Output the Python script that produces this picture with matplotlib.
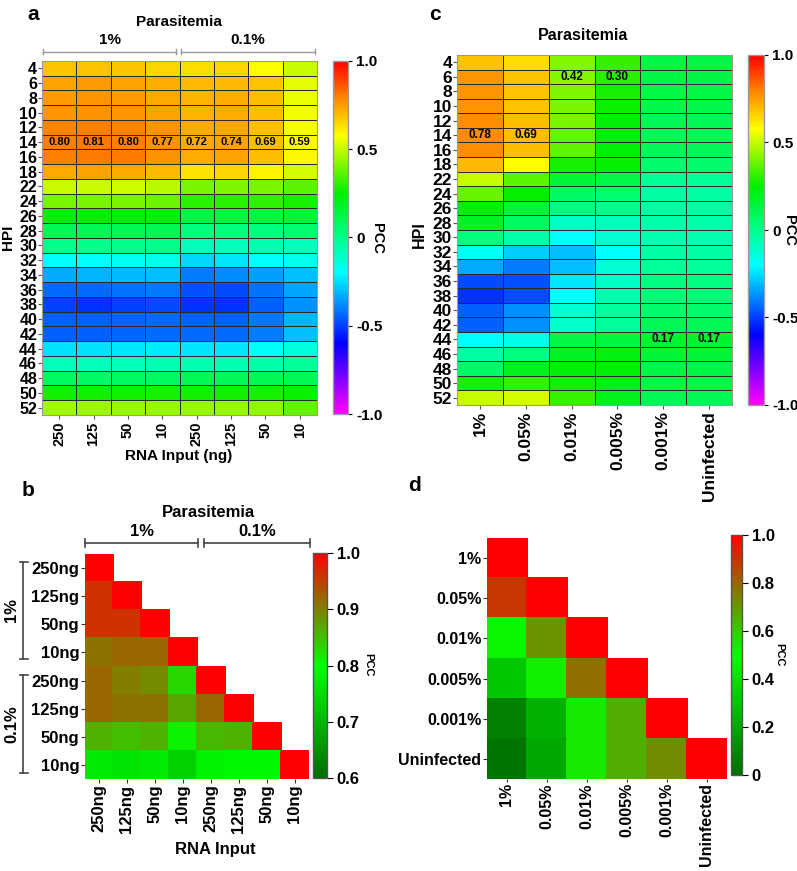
import numpy as np
import matplotlib
matplotlib.use("Agg")
import matplotlib.pyplot as plt
from matplotlib.colors import LinearSegmentedColormap

plt.rcParams['font.family'] = ['Liberation Sans', 'DejaVu Sans']
plt.rcParams['font.weight'] = 'bold'

# ---------------- data ----------------
hpi = [4, 6, 8, 10, 12, 14, 16, 18, 22, 24, 26, 28, 30, 32, 34, 36, 38, 40, 42, 44, 46, 48, 50, 52]
rna_a = ["250", "125", "50", "10", "250", "125", "50", "10"]

# panel a: PCC per HPI (rows) and RNA input (cols: 1% x4, 0.1% x4)
pcc_a = np.array([
    [0.68, 0.68, 0.68, 0.65, 0.64, 0.65, 0.58, 0.50],
    [0.74, 0.75, 0.74, 0.72, 0.70, 0.70, 0.68, 0.54],
    [0.75, 0.76, 0.75, 0.73, 0.71, 0.72, 0.69, 0.55],
    [0.76, 0.77, 0.76, 0.74, 0.71, 0.72, 0.69, 0.56],
    [0.79, 0.80, 0.79, 0.76, 0.72, 0.73, 0.69, 0.57],
    [0.80, 0.81, 0.80, 0.77, 0.72, 0.74, 0.69, 0.59],
    [0.80, 0.81, 0.81, 0.77, 0.72, 0.74, 0.69, 0.59],
    [0.73, 0.74, 0.73, 0.70, 0.63, 0.65, 0.60, 0.52],
    [0.50, 0.50, 0.51, 0.49, 0.40, 0.41, 0.40, 0.36],
    [0.40, 0.40, 0.40, 0.39, 0.30, 0.30, 0.31, 0.28],
    [0.24, 0.25, 0.24, 0.24, 0.13, 0.14, 0.14, 0.15],
    [0.10, 0.10, 0.10, 0.10, 0.03, 0.03, 0.03, 0.05],
    [0.00, 0.00, 0.00, 0.00, -0.08, -0.08, -0.07, -0.08],
    [-0.20, -0.20, -0.18, -0.17, -0.26, -0.24, -0.20, -0.17],
    [-0.33, -0.32, -0.31, -0.30, -0.40, -0.38, -0.35, -0.30],
    [-0.43, -0.43, -0.42, -0.41, -0.47, -0.48, -0.42, -0.34],
    [-0.50, -0.52, -0.50, -0.48, -0.52, -0.52, -0.45, -0.37],
    [-0.45, -0.45, -0.44, -0.43, -0.45, -0.45, -0.41, -0.32],
    [-0.45, -0.45, -0.44, -0.43, -0.43, -0.43, -0.40, -0.30],
    [-0.25, -0.25, -0.24, -0.23, -0.24, -0.24, -0.19, -0.14],
    [-0.08, -0.08, -0.08, -0.07, -0.07, -0.07, -0.05, -0.02],
    [0.08, 0.07, 0.08, 0.08, 0.10, 0.09, 0.10, 0.10],
    [0.27, 0.27, 0.27, 0.28, 0.27, 0.27, 0.28, 0.26],
    [0.46, 0.45, 0.44, 0.44, 0.44, 0.44, 0.43, 0.37],
])

# panel c: PCC per HPI and parasitemia
paras_c = ["1%", "0.05%", "0.01%", "0.005%", "0.001%", "Uninfected"]
pcc_c = np.array([
    [0.68, 0.64, 0.42, 0.32, 0.13, 0.13],
    [0.76, 0.68, 0.42, 0.30, 0.13, 0.13],
    [0.76, 0.68, 0.41, 0.28, 0.12, 0.12],
    [0.76, 0.68, 0.40, 0.26, 0.11, 0.11],
    [0.78, 0.69, 0.40, 0.24, 0.10, 0.10],
    [0.78, 0.69, 0.38, 0.24, 0.09, 0.09],
    [0.78, 0.69, 0.37, 0.24, 0.09, 0.09],
    [0.70, 0.58, 0.28, 0.25, 0.06, 0.06],
    [0.50, 0.36, 0.15, 0.12, -0.02, -0.02],
    [0.38, 0.25, 0.07, 0.05, -0.04, -0.04],
    [0.24, 0.15, 0.02, 0.00, -0.04, -0.04],
    [0.18, 0.08, -0.10, -0.08, -0.05, -0.05],
    [0.03, -0.05, -0.20, -0.12, -0.06, -0.06],
    [-0.18, -0.28, -0.30, -0.20, -0.04, -0.04],
    [-0.33, -0.40, -0.30, -0.12, -0.02, -0.02],
    [-0.48, -0.47, -0.24, -0.10, 0.02, 0.02],
    [-0.52, -0.48, -0.20, -0.06, 0.04, 0.04],
    [-0.45, -0.37, -0.12, -0.03, 0.06, 0.06],
    [-0.45, -0.37, -0.11, -0.02, 0.10, 0.10],
    [-0.20, -0.16, 0.12, 0.14, 0.17, 0.17],
    [-0.04, 0.03, 0.18, 0.22, 0.15, 0.15],
    [0.07, 0.20, 0.24, 0.24, 0.13, 0.13],
    [0.28, 0.32, 0.27, 0.22, 0.12, 0.12],
    [0.50, 0.52, 0.32, 0.20, 0.10, 0.10],
])
# cells of c with printed values (row, col)
labels_c = [(1, 2), (1, 3), (5, 0), (5, 1), (19, 4), (19, 5)]

# panel b: sample-sample correlation (lower triangle)
rna_b = ["250ng", "125ng", "50ng", "10ng", "250ng", "125ng", "50ng", "10ng"]
pcc_b = [
    [1.00],
    [0.96, 1.00],
    [0.96, 0.96, 1.00],
    [0.91, 0.92, 0.92, 1.00],
    [0.92, 0.90, 0.89, 0.83, 1.00],
    [0.92, 0.91, 0.91, 0.87, 0.92, 1.00],
    [0.86, 0.85, 0.86, 0.81, 0.855, 0.86, 1.00],
    [0.77, 0.76, 0.77, 0.74, 0.78, 0.79, 0.79, 1.00],
]

# panel d
paras_d = ["1%", "0.05%", "0.01%", "0.005%", "0.001%", "Uninfected"]
pcc_d = [
    [1.00],
    [0.89, 1.00],
    [0.52, 0.71, 1.00],
    [0.31, 0.53, 0.78, 1.00],
    [0.07, 0.24, 0.54, 0.66, 1.00],
    [0.03, 0.20, 0.54, 0.66, 0.72, 1.00],
]


def tri(rows):
    n = len(rows)
    m = np.full((n, n), np.nan)
    for i, r in enumerate(rows):
        m[i, :len(r)] = r
    return np.ma.masked_invalid(m)


# ---------------- colormaps ----------------
def c(r, g, b):
    return (r / 255, g / 255, b / 255)

stops = [(-1.0, c(255, 0, 255)), (-0.6, c(0, 0, 255)), (-0.2, c(0, 255, 255)),
         (0.0, c(0, 255, 140)), (0.25, c(0, 238, 0)), (0.58, c(255, 255, 0)),
         (0.8, c(255, 130, 0)), (1.0, c(255, 0, 0))]
cmap_hpi = LinearSegmentedColormap.from_list("hpi", [((v + 1) / 2, col) for v, col in stops])
cmap_b = LinearSegmentedColormap.from_list("rg_b", [(0, c(0, 110, 0)), (0.5, c(0, 255, 0)), (1, c(255, 0, 0))])
cmap_d = LinearSegmentedColormap.from_list("rg_d", [(0, c(0, 110, 0)), (0.5, c(0, 255, 0)), (1, c(255, 0, 0))])

W, H = 797, 871
fig = plt.figure(figsize=(W / 100, H / 100), dpi=100)


def box(x0, y0, x1, y1):
    return [x0 / W, 1 - y1 / H, (x1 - x0) / W, (y1 - y0) / H]


grey = '#9a9a9a'


def style_cbar(cax, ticks, labels, size, lw_col=grey):
    cax.set_yticks(ticks)
    cax.set_yticklabels(labels, fontsize=size, fontweight='bold')
    cax.tick_params(axis='y', length=3, width=0.8, pad=3)
    cax.set_xticks([])
    for s in cax.spines.values():
        s.set_color(lw_col)
        s.set_linewidth(1.0)


def hpi_heatmap(ax_box, cax_box, data, xlabels, ysize, xsize):
    ax = fig.add_axes(box(*ax_box))
    mesh = ax.pcolormesh(data, cmap=cmap_hpi, vmin=-1, vmax=1, edgecolors='#2a2a2a', linewidth=0.6)
    ax.set_xlim(0, data.shape[1])
    ax.set_ylim(data.shape[0], 0)
    ax.set_yticks(np.arange(len(hpi)) + 0.5)
    ax.set_yticklabels([str(h) for h in hpi], fontsize=ysize, fontweight='bold')
    ax.set_xticks(np.arange(data.shape[1]) + 0.5)
    ax.set_xticklabels(xlabels, rotation=90, fontsize=xsize, fontweight='bold')
    ax.tick_params(length=3, width=0.8, pad=1.5, color='#555555')
    ax.tick_params(axis='y', pad=0.5)
    for s in ax.spines.values():
        s.set_color(grey)
    cax = fig.add_axes(box(*cax_box))
    cb = fig.colorbar(mesh, cax=cax)
    cb.outline.set_edgecolor(grey)
    style_cbar(cax, [-1, -0.5, 0, 0.5, 1], ['-1.0', '-0.5', '0', '0.5', '1.0'], 11)
    return ax


# ---- panel a ----
ax_a = hpi_heatmap((42, 61, 317, 415), (333, 61, 348, 414), pcc_a, rna_a, 11.5, 10.5)
for j in range(8):
    ax_a.text(j + 0.5, 5.5, f"{pcc_a[5, j]:.2f}", ha='center', va='center', fontsize=8, fontweight='bold')

# ---- panel c ----
ax_c = hpi_heatmap((457, 55, 732, 405), (748, 55, 764, 405), pcc_c, paras_c, 12.5, 12.5)
for (i, j) in labels_c:
    ax_c.text(j + 0.5, i + 0.5, f"{pcc_c[i, j]:.2f}", ha='center', va='center', fontsize=8.5, fontweight='bold')


# ---- panels b, d ----
def tri_heatmap(ax_box, cax_box, rows, labels, cmap, vmin, vmax, ticks, ticklabels, ysize, xsize):
    data = tri(rows)
    ax = fig.add_axes(box(*ax_box))
    mesh = ax.pcolormesh(data, cmap=cmap, vmin=vmin, vmax=vmax, edgecolors='face', linewidth=0.3)
    n = data.shape[0]
    ax.set_xlim(0, n)
    ax.set_ylim(n, 0)
    ax.set_xticks(np.arange(n) + 0.5)
    ax.set_xticklabels(labels, rotation=90, fontsize=xsize, fontweight='bold')
    ax.set_yticks(np.arange(n) + 0.5)
    ax.set_yticklabels(labels, fontsize=ysize, fontweight='bold')
    ax.tick_params(length=3, width=0.8, pad=1, color='#333333')
    for s in ax.spines.values():
        s.set_visible(False)
    cax = fig.add_axes(box(*cax_box))
    cb = fig.colorbar(mesh, cax=cax)
    cb.outline.set_edgecolor('#555555')
    style_cbar(cax, ticks, ticklabels, 12, '#555555')
    cax.tick_params(axis='y', length=4)
    return ax


ax_b = tri_heatmap((85, 554, 309, 779), (313, 553, 327, 778), pcc_b, rna_b, cmap_b, 0.6, 1.0,
                   [0.6, 0.7, 0.8, 0.9, 1.0], ['0.6', '0.7', '0.8', '0.9', '1.0'], 12, 12)
ax_d = tri_heatmap((487, 538, 727, 779), (731, 535, 742, 775), pcc_d, paras_d, cmap_d, 0.0, 1.0,
                   [0, 0.2, 0.4, 0.6, 0.8, 1.0], ['0', '0.2', '0.4', '0.6', '0.8', '1.0'], 11.5, 11.5)
ax_d.tick_params(axis='x', pad=0.5, length=2.5)

# ---- overlay for labels and brackets (pixel coords) ----
ov = fig.add_axes([0, 0, 1, 1], zorder=10)
ov.set_xlim(0, W)
ov.set_ylim(H, 0)
ov.axis('off')
ov.patch.set_visible(False)


def t(x, y, s, size=11, rot=0, **kw):
    ov.text(x, y, s, ha='center', va='center', fontsize=size, fontweight='bold', rotation=rot, **kw)


# panel letters
t(33, 15, "a", 15)
t(435, 15, "c", 15)
t(28, 490, "b", 15)
t(415, 485, "d", 15)

# a titles
t(179, 22, "Parasitemia")
t(110, 40, "1%")
t(248, 40, "0.1%")
for x0, x1 in [(43, 176), (181, 315)]:
    ov.plot([x0, x1], [52, 52], color=grey, lw=1)
    ov.plot([x0, x0], [49.5, 54.5], color=grey, lw=1)
    ov.plot([x1, x1], [49.5, 54.5], color=grey, lw=1)
t(8, 237, "HPI", rot=90)
t(179, 456, "RNA Input (ng)")
t(377, 238, "PCC", 10.5, rot=270)

# c titles
t(583, 35, "Parasitemia", 11.5)
t(419, 235, "HPI", 11.5, rot=90)
t(789, 230, "PCC", 10.5, rot=270)

# b titles
t(208, 512, "Parasitemia", 12)
t(142, 531, "1%", 12)
t(257, 531, "0.1%", 12)
for x0, x1 in [(85, 198), (204, 310)]:
    ov.plot([x0, x1], [543, 543], color='#444444', lw=1.2)
    ov.plot([x0, x0], [539, 547], color='#444444', lw=1.2)
    ov.plot([x1, x1], [539, 547], color='#444444', lw=1.2)
for y0, y1, lab, ym in [(562, 659, "1%", 610), (675, 773, "0.1%", 724)]:
    ov.plot([23, 23], [y0, y1], color='#444444', lw=1.2)
    ov.plot([20, 28], [y0, y0], color='#444444', lw=1.2)
    ov.plot([20, 28], [y1, y1], color='#444444', lw=1.2)
    t(12, ym, lab, 12, rot=90)
t(215, 849, "RNA Input", 12)
t(368, 665, "PCC", 8, rot=270)

# d titles
t(779, 655, "PCC", 8, rot=270)

fig.savefig("out.png", dpi=100)
